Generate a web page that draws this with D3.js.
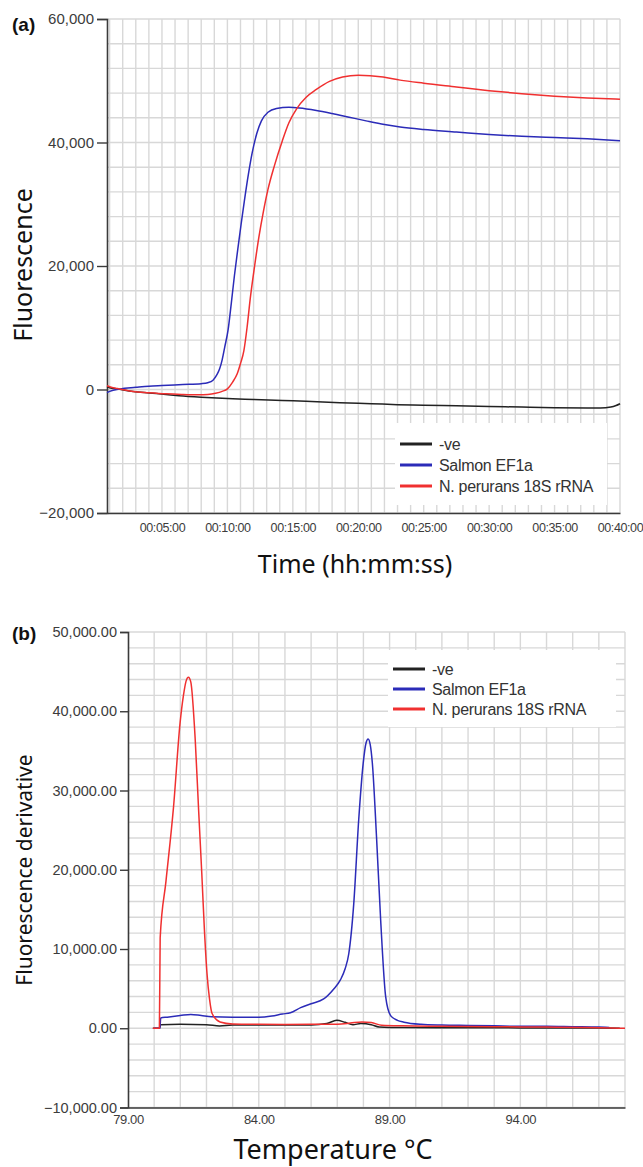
<!DOCTYPE html>
<html><head><meta charset="utf-8">
<script src="https://cdn.jsdelivr.net/npm/d3@7"></script>
<style>
html,body{margin:0;padding:0;background:#fff;}
svg{display:block;}
</style></head>
<body>
<script>
// ---------- Panel (a): amplification (time in minutes) ----------
const seriesNames = ["-ve", "Salmon EF1a", "N. perurans 18S rRNA"];
const seriesColors = ["#222222", "#2b2bb8", "#f03030"];

const aTimeTicks = [5, 10, 15, 20, 25, 30, 35, 40];
const aYTicks = [-20000, 0, 20000, 40000, 60000];

const aBlueT = [0.8,1.0,1.8,3.0,4.0,5.0,6.6,8.0,8.5,8.9,9.2,9.4,9.6,9.8,10.05,10.3,10.54,10.8,11.05,11.3,11.6,11.9,12.25,12.6,13.1,13.75,14.7,15.5,16.8,18.0,19.3,20.6,22.0,23.2,25.0,27.5,30.0,32.5,35.0,37.5,40.0];
const aBlueV = [-500,-300,100,350,540,650,810,950,1100,1500,2400,3300,4800,6900,9600,14000,18500,22800,26800,30600,34800,38400,41500,43500,44900,45500,45700,45600,45200,44700,44100,43500,42900,42500,42100,41700,41300,41000,40800,40600,40300];

const aRedT = [0.8,1.0,1.6,2.8,4.0,5.3,6.5,7.8,8.5,9.1,9.6,10.0,10.4,10.75,11.0,11.26,11.5,11.75,12.08,12.4,12.75,13.1,13.6,14.2,14.7,15.3,16.0,16.8,17.8,18.8,20.0,21.9,23.2,25.0,27.5,30.0,32.5,35.0,37.5,40.0];
const aRedV = [600,450,150,-320,-520,-700,-800,-860,-800,-600,-300,100,1200,2540,4200,6300,10000,14800,20000,24600,28800,32400,36300,40300,43200,45500,47300,48600,49900,50600,50900,50600,50100,49600,49000,48400,47900,47500,47200,47000];

const aBlackT = [0.8,1.0,1.6,2.8,4.0,5.3,6.3,8.0,10.4,12.0,14.2,16.0,18.6,21.0,23.0,25.0,27.5,30.0,32.5,35.0,37.5,38.5,39.3,39.7,40.0];
const aBlackV = [400,300,100,-320,-560,-800,-1000,-1250,-1500,-1600,-1780,-1900,-2150,-2300,-2450,-2550,-2650,-2750,-2850,-2950,-3000,-3000,-2850,-2600,-2300];

// ---------- Panel (b): melt curve (temperature °C) ----------
const bXTicks = [79, 84, 89, 94];
const bYTicks = [-10000, 0, 10000, 20000, 30000, 40000, 50000];

const bRedT = [79.95,80.2,80.23,80.45,80.74,80.99,81.12,81.22,81.31,81.4,81.57,81.7,81.82,81.92,82.02,82.12,82.21,82.52,83.0,84.0,85.0,86.0,87.0,87.5,87.94,88.3,88.7,89.5,91.0,93.0,95.0,96.5,97.5,98.0];
const bRedV = [0,0,11400,18500,27900,38500,42000,43800,44300,43700,36400,27500,19600,12500,6900,3600,1900,800,550,500,480,500,520,650,800,720,380,300,250,200,150,100,30,0];

const bBlueT = [80.0,80.22,80.25,80.5,81.0,81.4,81.8,82.2,83.0,84.0,84.5,84.9,85.21,85.6,86.0,86.48,86.85,87.12,87.3,87.44,87.63,87.82,87.99,88.1,88.18,88.26,88.34,88.5,88.66,88.85,89.04,89.3,89.55,90.2,91.0,92.0,93.0,94.0,95.0,96.0,97.0,97.4];
const bBlueV = [0,0,1300,1400,1600,1750,1600,1450,1400,1400,1550,1800,1950,2600,3100,3700,4900,6100,7500,9400,15700,26300,33400,36000,36500,35800,33500,24200,13600,4000,1600,1000,770,500,400,350,300,250,250,200,150,100];

const bBlackT = [79.95,80.2,80.25,81.0,82.0,82.5,83.0,84.0,85.0,86.0,86.6,86.98,87.3,87.6,87.9,88.3,88.6,89.5,91.0,93.0,95.0,97.0,97.8];
const bBlackV = [0,0,450,500,450,280,400,400,420,420,600,1000,750,450,590,450,170,80,60,50,40,20,0];

const W = 643, H = 1167;
const svg = d3.select("body").append("svg").attr("width", W).attr("height", H)
  .style("background", "#fff");

const gridColor = "#d8d8d8";
const axisColor = "#3a3a3a";
const tickFont = "'Liberation Sans', Arial, sans-serif";
const titleFont = "'Noto Sans', 'Open Sans', sans-serif";

function pad2(n){ return String(n).padStart(2, "0"); }
function fmtTime(m){ const h = Math.floor(m/60), mm = Math.floor(m%60), s = Math.round((m*60)%60); return pad2(h)+":"+pad2(mm)+":"+pad2(s); }

function panel(opts){
  const {x, y, xGrid, yGrid, xTicks, yTicks, xFmt, yFmt, series, legend, label, labelY,
         yTitle, yTitleCenter, yTitleSize, xTitle, xTitleX, xTitleY, xTitleSize,
         xLabelDy, xLabelSize, yLabelSize, yTickSize} = opts;
  const g = svg.append("g");
  const [x0, x1] = x.range();
  const [y0, y1] = y.range(); // y0 bottom, y1 top

  // grid
  g.append("g").selectAll("line").data(xGrid).join("line")
    .attr("x1", d => x(d)).attr("x2", d => x(d)).attr("y1", y1).attr("y2", y0)
    .attr("stroke", gridColor).attr("stroke-width", 1.4);
  g.append("g").selectAll("line").data(yGrid).join("line")
    .attr("x1", x0).attr("x2", x1).attr("y1", d => y(d)).attr("y2", d => y(d))
    .attr("stroke", gridColor).attr("stroke-width", 1.4);

  // legend box (covers grid)
  g.append("rect").attr("x", legend.x).attr("y", legend.y).attr("width", legend.w).attr("height", legend.h)
    .attr("fill", "#fff");

  // y axis
  const yAxis = d3.axisLeft(y).tickValues(yTicks).tickFormat(yFmt).tickSize(yTickSize).tickPadding(3);
  const ya = g.append("g").attr("transform", `translate(${x0},0)`).call(yAxis);
  ya.select(".domain").attr("stroke", axisColor).attr("stroke-width", 1.6);
  ya.selectAll(".tick line").attr("stroke", axisColor).attr("stroke-width", 1.4);
  ya.selectAll(".tick text").attr("fill", "#3c3c3c").style("font-family", tickFont).style("font-size", yLabelSize);

  // x axis
  const xAxis = d3.axisBottom(x).tickValues(xTicks).tickFormat(xFmt).tickSize(0).tickPadding(xLabelDy);
  const xa = g.append("g").attr("transform", `translate(0,${y0})`).call(xAxis);
  xa.select(".domain").attr("stroke", axisColor).attr("stroke-width", 1.6);
  xa.selectAll(".tick text").attr("fill", "#3c3c3c").style("font-family", tickFont).style("font-size", xLabelSize)
    .style("letter-spacing", "-0.4px");

  // series
  const line = d3.line().x(d => x(d[0])).y(d => y(d[1])).curve(d3.curveMonotoneX);
  series.forEach((s, i) => {
    const pts = s.t.map((t, k) => [t, s.v[k]]);
    g.append("path").datum(pts).attr("d", line).attr("fill", "none")
      .attr("stroke", seriesColors[i]).attr("stroke-width", 1.5).attr("stroke-linejoin", "round");
  });

  // legend entries
  seriesNames.forEach((n, i) => {
    const ly = legend.y + legend.first + i * legend.step;
    g.append("line").attr("x1", legend.x + 5).attr("x2", legend.x + 37).attr("y1", ly).attr("y2", ly)
      .attr("stroke", seriesColors[i]).attr("stroke-width", 3);
    g.append("text").attr("x", legend.x + 44).attr("y", ly).attr("dy", "0.35em")
      .style("font-family", tickFont).style("font-size", "16px").attr("fill", "#333")
      .style("letter-spacing", "-0.3px").text(n);
  });

  // panel label
  g.append("text").attr("x", 12).attr("y", labelY).text(label)
    .style("font-family", "'Liberation Sans', Arial, sans-serif").style("font-weight", "bold").style("font-size", "19px").attr("fill", "#111");

  // titles
  g.append("text").attr("transform", `translate(32,${yTitleCenter}) rotate(-90)`).attr("text-anchor", "middle")
    .style("font-family", titleFont).style("font-size", yTitleSize).attr("fill", "#111").text(yTitle);
  g.append("text").attr("x", xTitleX).attr("y", xTitleY).attr("text-anchor", "middle")
    .style("font-family", titleFont).style("font-size", xTitleSize).attr("fill", "#111").text(xTitle);
}

// Panel (a)
const xA = d3.scaleLinear().domain([0.8, 40]).range([107, 620]);
const yA = d3.scaleLinear().domain([-20000, 60000]).range([513, 19]);
panel({
  x: xA, y: yA,
  xGrid: d3.range(1, 41), yGrid: d3.range(-20000, 60001, 4000),
  xTicks: aTimeTicks, yTicks: aYTicks,
  xFmt: fmtTime, yFmt: d3.format(","),
  series: [{t: aBlackT, v: aBlackV}, {t: aBlueT, v: aBlueV}, {t: aRedT, v: aRedV}],
  legend: {x: 395, y: 423, w: 212, h: 82, first: 21, step: 21},
  label: "(a)", labelY: 31,
  yTitle: "Fluorescence", yTitleCenter: 265, yTitleSize: "25px",
  xTitle: "Time (hh:mm:ss)", xTitleX: 355, xTitleY: 573, xTitleSize: "25px",
  xLabelDy: 10, xLabelSize: "12.5px", yLabelSize: "15px", yTickSize: 10
});

// Panel (b)
const xB = d3.scaleLinear().domain([79, 98]).range([128, 625]);
const yB = d3.scaleLinear().domain([-10000, 50000]).range([1107.5, 632]);
panel({
  x: xB, y: yB,
  xGrid: d3.range(80, 99), yGrid: d3.range(-10000, 50001, 2000),
  xTicks: bXTicks, yTicks: bYTicks,
  xFmt: d3.format(".2f"), yFmt: d3.format(",.2f"),
  series: [{t: bBlackT, v: bBlackV}, {t: bBlueT, v: bBlueV}, {t: bRedT, v: bRedV}],
  legend: {x: 388, y: 650, w: 228, h: 77, first: 19, step: 20},
  label: "(b)", labelY: 640,
  yTitle: "Fluorescence derivative", yTitleCenter: 870, yTitleSize: "21px",
  xTitle: "Temperature °C", xTitleX: 333, xTitleY: 1159, xTitleSize: "27px",
  xLabelDy: 7, xLabelSize: "13px", yLabelSize: "14.5px", yTickSize: 8
});
</script>
</body></html>
